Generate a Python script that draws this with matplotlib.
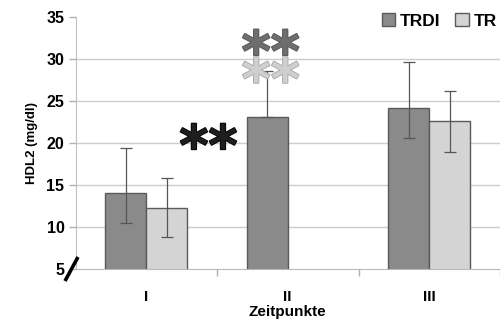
import matplotlib
matplotlib.use('Agg')
import matplotlib.pyplot as plt
import matplotlib.patheffects as pe
from matplotlib.lines import Line2D
import numpy as np

plt.rcParams['font.family'] = ['Liberation Sans', 'DejaVu Sans']

# HDL2 je Zeitpunkt (mg/dl)
zeitpunkte = ['I', 'II', 'III']
trdi_mean = [14.1, 23.1, 24.2]
trdi_err_lo = [3.6, 0.0, 3.6]
trdi_err_hi = [5.3, 5.5, 5.4]
tr_mean = [12.3, np.nan, 22.6]
tr_err_lo = [3.5, 0.0, 3.7]
tr_err_hi = [3.6, 0.0, 3.6]
y_ticks = [5, 10, 15, 20, 25, 30, 35]

c_trdi = '#8a8a8a'
c_tr = '#d4d4d4'
c_edge = '#5a5a5a'

fig = plt.figure(figsize=(5.0, 3.2), dpi=100)
ax = fig.add_axes([0.151, 0.159, 0.849, 0.788])

x = np.arange(len(zeitpunkte)) + 0.5
w = 0.29

ax.bar(x - w / 2, trdi_mean, w, bottom=0, color=c_trdi, edgecolor=c_edge,
       linewidth=1.0, label='TRDI', zorder=2)
ax.bar(x + w / 2, tr_mean, w, bottom=0, color=c_tr, edgecolor=c_edge,
       linewidth=1.0, label='TR', zorder=2)

# Fehlerbalken
ax.errorbar(x - w / 2, trdi_mean, yerr=[trdi_err_lo, trdi_err_hi], fmt='none',
            ecolor='#555555', elinewidth=0.9, capsize=4, capthick=0.9, zorder=3)
tr_x = [xi + w / 2 for xi, m in zip(x, tr_mean) if not np.isnan(m)]
tr_m = [m for m in tr_mean if not np.isnan(m)]
tr_lo = [e for e, m in zip(tr_err_lo, tr_mean) if not np.isnan(m)]
tr_hi = [e for e, m in zip(tr_err_hi, tr_mean) if not np.isnan(m)]
ax.errorbar(tr_x, tr_m, yerr=[tr_lo, tr_hi], fmt='none',
            ecolor='#555555', elinewidth=0.9, capsize=4, capthick=0.9, zorder=3)

ax.set_xlim(0, 3)
ax.set_ylim(5, 35)
ax.set_yticks(y_ticks)
ax.set_yticklabels([str(t) for t in y_ticks], fontsize=11.5, fontweight='bold')

# Kategorien mittig, Teilstriche an den Grenzen
ax.set_xticks([1, 2, 3])
ax.set_xticklabels([])
ax.tick_params(axis='x', length=5, color='#b0b0b0', width=1)
ax.tick_params(axis='y', length=5, color='#b0b0b0', width=1, pad=3)
for xi, lab in zip(x, zeitpunkte):
    ax.text(xi, -0.11, lab, transform=ax.get_xaxis_transform(), ha='center',
            va='center', fontsize=11, fontweight='bold')
ax.text(1.5, -0.171, 'Zeitpunkte', transform=ax.get_xaxis_transform(),
        ha='center', va='center', fontsize=11, fontweight='bold')

ax.set_ylabel('HDL2 (mg/dl)', fontsize=9.5, fontweight='bold', labelpad=6)

for y in y_ticks[1:-1]:
    ax.axhline(y, color='#cccccc', linewidth=1.0, zorder=1)

for s in ['top', 'right']:
    ax.spines[s].set_visible(False)
ax.spines['left'].set_color('#c0c0c0')
ax.spines['bottom'].set_color('#b8b8b8')
ax.spines['bottom'].set_zorder(1)

# Achsenbruch
fig.add_artist(Line2D([65 / 500, 78 / 500], [1 - 281 / 320, 1 - 257 / 320],
                      color='black', linewidth=2.6, solid_capstyle='butt'))

# Signifikanzsterne
star_kw = dict(ha='center', va='center', fontsize=40, fontweight='bold',
               family='DejaVu Sans', zorder=5)
ax.text(0.94, 19.2, '**', color='#1e1e1e',
        path_effects=[pe.withStroke(linewidth=1.2, foreground='#000000')], **star_kw)
ax.text(1.38, 30.4, '**', color='#6e6e6e',
        path_effects=[pe.withStroke(linewidth=1.2, foreground='#555555')], **star_kw)
ax.text(1.38, 27.1, '**', color='#cfcfcf',
        path_effects=[pe.withStroke(linewidth=1.2, foreground='#a8a8a8')], **star_kw)

fig.legend(loc='upper left', bbox_to_anchor=(0.764, 0.958), ncol=2, frameon=False,
           handlelength=0.75, handleheight=0.75, handletextpad=0.3, columnspacing=0.85,
           prop={'size': 12.5, 'weight': 'bold'}, borderaxespad=0, borderpad=0)

fig.savefig('out.png', dpi=100)
